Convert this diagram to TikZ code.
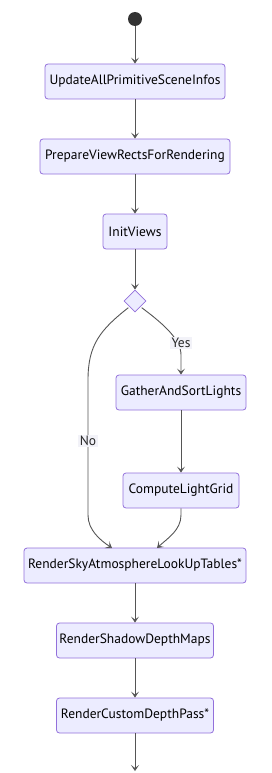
\documentclass[tikz,border=0pt]{standalone}
\usepackage{fontspec}
\setmainfont{PT Sans}
\usetikzlibrary{arrows.meta,shapes.geometric}
\definecolor{nfill}{HTML}{ECECFF}
\definecolor{nstroke}{HTML}{9370DB}
\definecolor{edge}{HTML}{555555}
\definecolor{lbl}{HTML}{F2F2F8}
\tikzset{
  stepbox/.style={draw=nstroke,fill=nfill,rounded corners=3pt,line width=0.8pt,minimum height=35pt,inner xsep=0pt,font=\fontsize{13.5}{16}\selectfont,text=black},
  conn/.style={draw=edge,line width=0.9pt,-{Stealth[length=6pt,width=8pt,inset=3pt]}},
  elabel/.style={fill=lbl,inner sep=1.5pt,font=\fontsize{13.5}{16}\selectfont,text=black!85}
}
\begin{document}
\begin{tikzpicture}[x=1pt,y=-1pt]
\useasboundingbox (0,0) rectangle (271,773);
\fill[fill=black!80] (135,19) circle (7) coordinate (start);
\node[stepbox,minimum width=180pt] (n1) at (135,81.5) {UpdateAllPrimitiveSceneInfos};
\node[stepbox,minimum width=190pt] (n2) at (135,156.5) {PrepareViewRectsForRendering};
\node[stepbox,minimum width=64pt] (n3) at (135,231.5) {InitViews};
\node[draw=nstroke,fill=nfill,line width=0.8pt,diamond,minimum width=22pt,minimum height=22pt,inner sep=0pt] (d) at (135,301) {};
\node[stepbox,minimum width=130pt] (g) at (181,392.5) {GatherAndSortLights};
\node[stepbox,minimum width=116pt] (c) at (181,490.5) {ComputeLightGrid};
\node[stepbox,minimum width=222pt] (s) at (135,565.5) {RenderSkyAtmosphereLookUpTables*};
\node[stepbox,minimum width=157pt] (sh) at (135,640.5) {RenderShadowDepthMaps};
\node[stepbox,minimum width=157pt] (cd) at (135,715.5) {RenderCustomDepthPass*};
\coordinate (end) at (135,771);
\draw[conn] (135,26) -- (n1);
\draw[conn] (n1) -- (n2);
\draw[conn] (n2) -- (n3);
\draw[conn] (n3) -- (d);
\draw[conn] (d.south east) ++(1,1) .. controls (165,325) and (181,340) .. (181,355) -- (g.north);
\node[elabel] at (181,343) {Yes};
\draw[conn] (d.south west) ++(-1,1) .. controls (100,330) and (88,345) .. (88,380) -- (88,515) .. controls (88,530) and (100,540) .. (112,548);
\node[elabel] at (88,441) {No};
\draw[conn] (g) -- (c);
\draw[conn] (c.south) -- (181,515) .. controls (181,530) and (168,538) .. (157,548);
\draw[conn] (s) -- (sh);
\draw[conn] (sh) -- (cd);
\draw[conn] (cd) -- (end);
\end{tikzpicture}
\end{document}
